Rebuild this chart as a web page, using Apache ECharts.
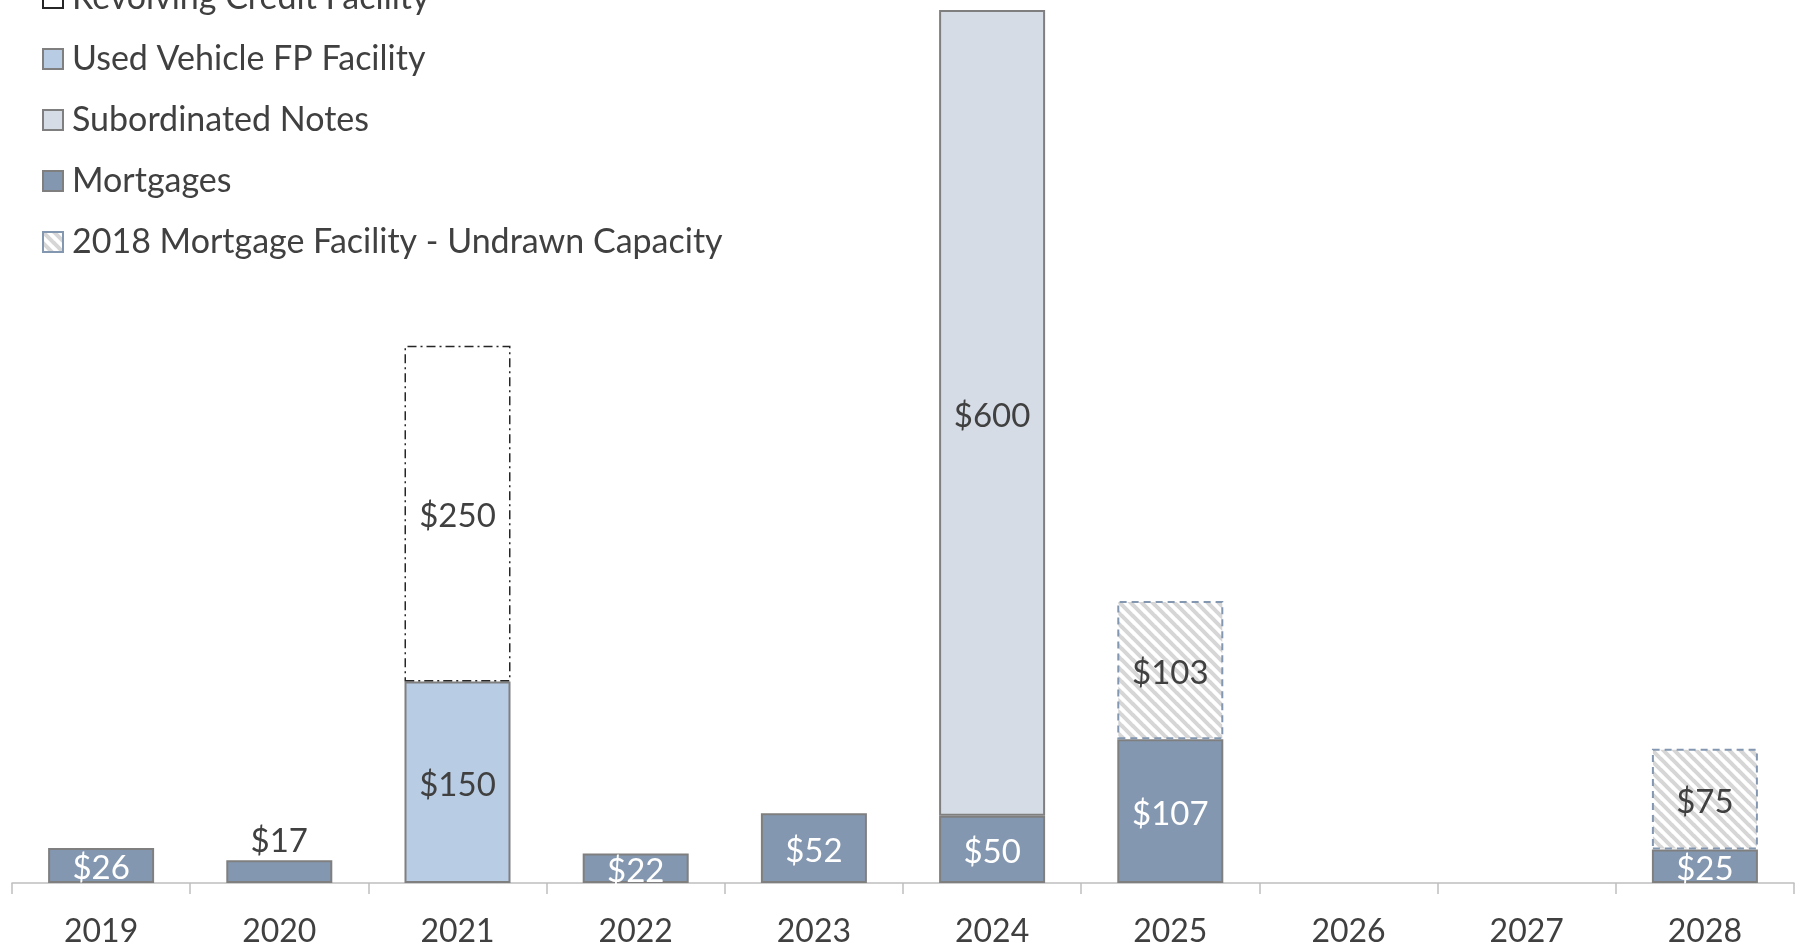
<html>
<head>
  <meta http-equiv="Content-Type" content="text/html; charset=UTF-8">
  <script src="https://cdn.jsdelivr.net/npm/echarts@6/dist/echarts.min.js"></script>
  <style>
    html, body { margin: 0; padding: 0; background: #fff; }
    #div_show_bar { width: 1805px; height: 948px; }
  </style>
</head>
<body>
  <div id="div_show_bar"></div>
  <script>
    // data ($ millions)
    var years = ['2019', '2020', '2021', '2022', '2023', '2024', '2025', '2026', '2027', '2028'];
    var mortgages   = [26, 17, null, 22, 52, 50, 107, null, null, 25];
    var usedVehicle = [null, null, 150, null, null, null, null, null, null, null];
    var subNotes    = [null, null, null, null, null, 600, null, null, null, null];
    var revolving   = [null, null, 250, null, null, null, null, null, null, null];
    var undrawn     = [null, null, null, null, null, null, 103, null, null, 75];

    var FONT = 'Lato';
    var TXT = '#404040';

    // hatch fill for the undrawn capacity
    function hatch() {
      var s = 11;
      var c = document.createElement('canvas');
      c.width = s; c.height = s;
      var ctx = c.getContext('2d');
      ctx.fillStyle = '#ffffff';
      ctx.fillRect(0, 0, s, s);
      ctx.strokeStyle = '#d6d6d6';
      ctx.lineWidth = 4;
      for (var k = -1; k <= 1; k++) {
        ctx.beginPath();
        ctx.moveTo(-1, k * s - 1);
        ctx.lineTo(s + 1, k * s + s + 1);
        ctx.stroke();
      }
      return c;
    }

    function lbl(color) {
      return {
        show: true, position: 'inside', color: color, offset: [0, 3],
        fontFamily: FONT, fontSize: 33,
        formatter: function (p) { return p.value == null ? '' : '$' + p.value; }
      };
    }

    // short bars get their label above the bar
    var mortData = mortgages.map(function (v) {
      if (v != null && v < 20) {
        return { value: v, label: { position: 'top', color: TXT, distance: 2, offset: [0, 0] } };
      }
      return v;
    });

    var myChart = echarts.init(document.getElementById('div_show_bar'));
    var options = {
      animation: false,
      legend: {
        orient: 'vertical',
        left: 42, top: -20, padding: 0,
        icon: 'rect',
        itemWidth: 20, itemHeight: 20, itemGap: 25,
        selectedMode: false,
        textStyle: { fontFamily: FONT, fontSize: 34, color: TXT, lineHeight: 36, padding: [0, 0, 0, 4] },
        data: ['Revolving Credit Facility', 'Used Vehicle FP Facility', 'Subordinated Notes', 'Mortgages',
               '2018 Mortgage Facility - Undrawn Capacity']
      },
      grid: { left: 12, right: 11, top: 10, bottom: 63 },
      xAxis: {
        type: 'category',
        data: years,
        axisLine: { lineStyle: { color: '#bfbfbf', width: 1.5 } },
        axisTick: { show: true, length: 11, lineStyle: { color: '#bfbfbf', width: 1.5 } },
        axisLabel: { color: TXT, fontFamily: FONT, fontSize: 32, margin: 33 }
      },
      yAxis: { type: 'value', min: 0, max: 650, show: false, splitLine: { show: false } },
      series: [
        {
          name: 'Mortgages', type: 'bar', stack: 'total', barWidth: 106,
          itemStyle: { color: '#8497b0', borderColor: '#7f7f7f', borderWidth: 2 },
          label: lbl('#ffffff'),
          data: mortData
        },
        {
          name: 'Used Vehicle FP Facility', type: 'bar', stack: 'total', barWidth: 106,
          itemStyle: { color: '#b8cce4', borderColor: '#7f7f7f', borderWidth: 2 },
          label: lbl(TXT),
          data: usedVehicle
        },
        {
          name: 'Subordinated Notes', type: 'bar', stack: 'total', barWidth: 106,
          itemStyle: { color: '#d6dce5', borderColor: '#7f7f7f', borderWidth: 2 },
          label: lbl(TXT),
          data: subNotes
        },
        {
          name: 'Revolving Credit Facility', type: 'bar', stack: 'total', barWidth: 106,
          itemStyle: { color: '#ffffff', borderColor: '#262626', borderWidth: 1.5, borderType: [9, 4, 2, 4] },
          label: lbl(TXT),
          data: revolving
        },
        {
          name: '2018 Mortgage Facility - Undrawn Capacity', type: 'bar', stack: 'total', barWidth: 106,
          itemStyle: { color: { image: hatch(), repeat: 'repeat' }, borderColor: '#8497b0', borderWidth: 2, borderType: [7, 5] },
          label: lbl(TXT),
          data: undrawn
        }
      ]
    };
    myChart.setOption(options);
  </script>
</body>
</html>
